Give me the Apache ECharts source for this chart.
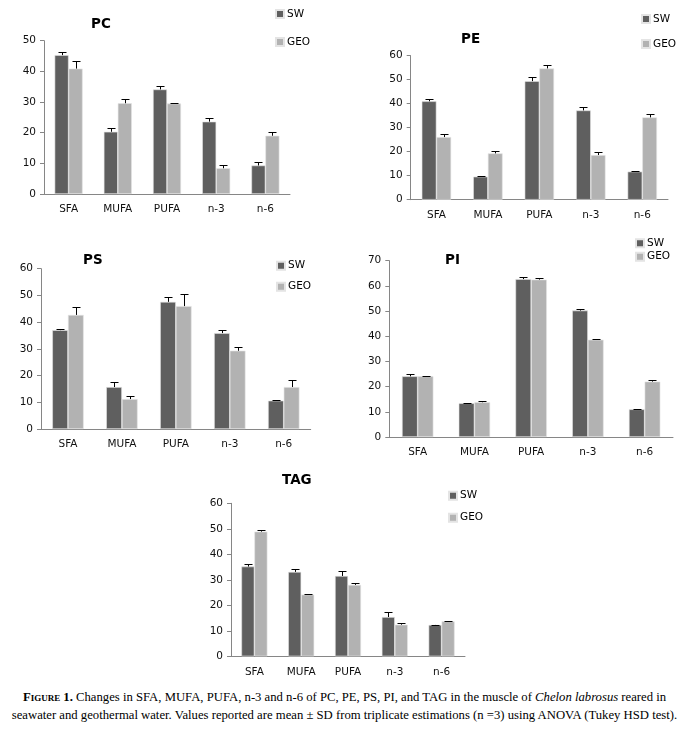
<!DOCTYPE html>
<html>
<head>
<meta charset="utf-8">
<script src="https://cdn.jsdelivr.net/npm/echarts@6/dist/echarts.min.js"></script>
<style>
  body { margin: 0; background: #fff; }
  #main { width: 689px; height: 685px; }
  #caption {
    position: absolute; left: 0; top: 688px; width: 689px;
    text-align: center; font-family: "Liberation Serif", serif;
    font-size: 12.7px; line-height: 18px; color: #000; white-space: nowrap;
  }
  #caption .fig { font-variant: small-caps; font-weight: bold; }
</style>
</head>
<body>
<div id="main"></div>
<div id="caption"><span class="fig">Figure 1.</span> Changes in SFA, MUFA, PUFA, n-3 and n-6 of PC, PE, PS, PI, and TAG in the muscle of <i>Chelon labrosus</i> reared in<br>seawater and geothermal water. Values reported are mean ± SD from triplicate estimations (n =3) using ANOVA (Tukey HSD test).</div>
<script>
var categories = ['SFA', 'MUFA', 'PUFA', 'n-3', 'n-6'];

// mean values and SD
var pcSW = [45.3, 20.3, 34.1, 23.6, 9.3];
var pcSWsd = [1.1, 1.1, 1.0, 1.1, 1.0];
var pcGEO = [40.9, 29.6, 29.5, 8.4, 19.0];
var pcGEOsd = [2.4, 1.3, 0.1, 0.9, 1.1];

var peSW = [41.0, 9.6, 49.4, 37.2, 11.7];
var peSWsd = [0.9, 0.1, 1.6, 1.3, 0.1];
var peGEO = [26.1, 19.3, 54.7, 18.6, 34.3];
var peGEOsd = [1.3, 1.0, 1.3, 1.1, 1.3];

var psSW = [37.0, 15.7, 47.6, 35.9, 10.6];
var psSWsd = [0.3, 1.8, 1.9, 1.0, 0.4];
var psGEO = [42.7, 11.2, 46.0, 29.3, 15.7];
var psGEOsd = [2.8, 1.0, 4.4, 1.5, 2.5];

var piSW = [24.1, 13.4, 62.7, 50.2, 11.0];
var piSWsd = [0.8, 0.2, 0.9, 0.7, 0.1];
var piGEO = [24.1, 13.8, 62.5, 38.6, 22.0];
var piGEOsd = [0.3, 0.4, 0.8, 0.4, 0.8];

var tagSW = [35.2, 33.1, 31.5, 15.4, 12.3];
var tagSWsd = [0.9, 1.0, 1.8, 1.9, 0.1];
var tagGEO = [48.9, 24.2, 28.0, 12.4, 13.7];
var tagGEOsd = [0.5, 0.2, 0.8, 0.7, 0.2];

var panels = [
  { name: 'PC', sw: pcSW, swSd: pcSWsd, geo: pcGEO, geoSd: pcGEOsd, max: 50,
    grid: { left: 44, top: 40.7, width: 246, height: 153.3 }, barWidth: 14,
    title: { left: 91, top: 17 }, legend: { left: 275, top: 8, itemGap: 16 } },
  { name: 'PE', sw: peSW, swSd: peSWsd, geo: peGEO, geoSd: peGEOsd, max: 60,
    grid: { left: 410.7, top: 55.7, width: 257.3, height: 144 }, barWidth: 14.7,
    title: { left: 461, top: 32 }, legend: { left: 641, top: 13, itemGap: 13 } },
  { name: 'PS', sw: psSW, swSd: psSWsd, geo: psGEO, geoSd: psGEOsd, max: 60,
    grid: { left: 41, top: 268.7, width: 269.7, height: 160.3 }, barWidth: 15.7,
    title: { left: 83, top: 253 }, legend: { left: 276, top: 259.7, itemGap: 9 } },
  { name: 'PI', sw: piSW, swSd: piSWsd, geo: piGEO, geoSd: piGEOsd, max: 70,
    grid: { left: 389.3, top: 260.7, width: 283.7, height: 176.3 }, barWidth: 15.7,
    title: { left: 445, top: 253.5 }, legend: { left: 635, top: 237.3, itemGap: 1.4 } },
  { name: 'TAG', sw: tagSW, swSd: tagSWsd, geo: tagGEO, geoSd: tagGEOsd, max: 60,
    grid: { left: 231, top: 503.3, width: 234, height: 153 }, barWidth: 13,
    title: { left: 282, top: 473 }, legend: { left: 448, top: 489.7, itemGap: 10 } }
];

var SW_COLOR = '#5f5f5f';
var GEO_COLOR = '#b2b2b2';
var AXIS_COLOR = '#868686';
var FONT = '"DejaVu Sans", sans-serif';

// error bar (plus direction with cap), shifted to the bar centre
function errorBar(offset) {
  return function (params, api) {
    var i = api.value(0);
    var base = api.coord([i, api.value(1)]);
    var top = api.coord([i, api.value(1) + api.value(2)]);
    var x = Math.round(base[0] + offset) + 0.5;
    var yTop = Math.round(top[1]) + 0.5;
    return {
      type: 'group',
      children: [
        { type: 'line', shape: { x1: x, y1: base[1], x2: x, y2: yTop }, style: { stroke: '#000', lineWidth: 1 } },
        { type: 'line', shape: { x1: x - 4, y1: yTop, x2: x + 4, y2: yTop }, style: { stroke: '#000', lineWidth: 1 } }
      ]
    };
  };
}

function toTriples(vals, sds) {
  var out = [];
  for (var i = 0; i < vals.length; i++) {
    out.push([i, vals[i], sds[i]]);
  }
  return out;
}

var option = {
  animation: false,
  title: [], legend: [], grid: [], xAxis: [], yAxis: [], series: []
};

for (var p = 0; p < panels.length; p++) {
  var pn = panels[p];
  option.title.push({
    text: pn.name, left: pn.title.left, top: pn.title.top, padding: 0,
    textStyle: { fontFamily: FONT, fontSize: 13.5, fontWeight: 'bold', color: '#000' }
  });
  option.legend.push({
    data: ['SW', 'GEO'], orient: 'vertical', left: pn.legend.left, top: pn.legend.top,
    itemGap: pn.legend.itemGap, itemWidth: 8, itemHeight: 8, icon: 'rect', padding: 0,
    selectedMode: false,
    textStyle: { fontFamily: FONT, fontSize: 10.5, lineHeight: 12, color: '#000', padding: [0, 0, 0, -2] }
  });
  option.grid.push(pn.grid);
  option.xAxis.push({
    type: 'category', gridIndex: p, data: categories,
    axisLine: { lineStyle: { color: AXIS_COLOR } },
    axisTick: { length: 4, lineStyle: { color: AXIS_COLOR } },
    axisLabel: { fontFamily: FONT, fontSize: 10.5, color: '#111', margin: 10 }
  });
  option.yAxis.push({
    type: 'value', gridIndex: p, min: 0, max: pn.max, interval: 10,
    axisLine: { show: true, lineStyle: { color: AXIS_COLOR } },
    axisTick: { show: true, length: 4, lineStyle: { color: AXIS_COLOR } },
    splitLine: { show: false },
    axisLabel: { fontFamily: FONT, fontSize: 10.5, color: '#111', margin: 8 }
  });
  option.series.push({
    name: 'SW', type: 'bar', xAxisIndex: p, yAxisIndex: p, data: pn.sw,
    barWidth: pn.barWidth, barGap: '0%',
    itemStyle: { color: SW_COLOR, borderColor: '#e4e4e4', borderWidth: 0.6 }
  });
  option.series.push({
    name: 'GEO', type: 'bar', xAxisIndex: p, yAxisIndex: p, data: pn.geo,
    barWidth: pn.barWidth, barGap: '0%',
    itemStyle: { color: GEO_COLOR, borderColor: '#e4e4e4', borderWidth: 0.6 }
  });
  option.series.push({
    name: 'SW sd', type: 'custom', xAxisIndex: p, yAxisIndex: p, z: 5,
    data: toTriples(pn.sw, pn.swSd), encode: { x: 0, y: 1 },
    renderItem: errorBar(-pn.barWidth / 2)
  });
  option.series.push({
    name: 'GEO sd', type: 'custom', xAxisIndex: p, yAxisIndex: p, z: 5,
    data: toTriples(pn.geo, pn.geoSd), encode: { x: 0, y: 1 },
    renderItem: errorBar(pn.barWidth / 2)
  });
}

var chart = echarts.init(document.getElementById('main'));
chart.setOption(option);
</script>
</body>
</html>
